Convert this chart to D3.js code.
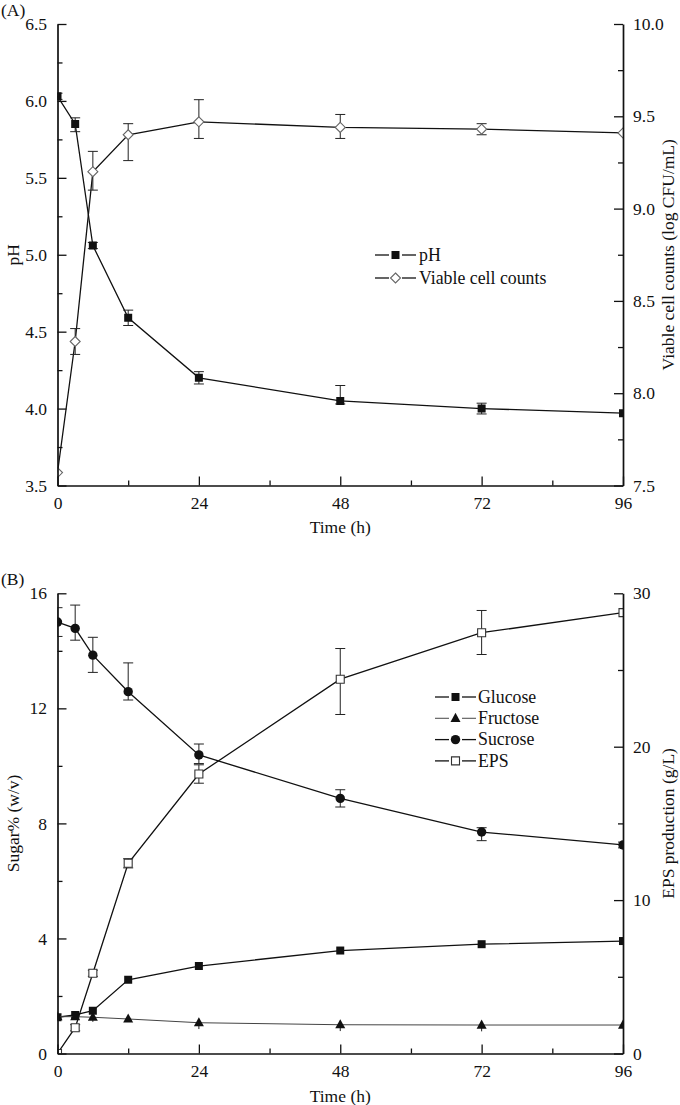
<!DOCTYPE html>
<html><head><meta charset="utf-8">
<script src="https://cdn.jsdelivr.net/npm/d3@7"></script>
<style>
body{margin:0;background:#fff}
svg{display:block}
text{font-family:"Liberation Serif","Times New Roman",serif;fill:#111}
.axis text{font-size:17.5px}
.lbl{font-size:17.5px}
.leg{font-size:17.8px}
</style>
</head><body>
<svg id="c" width="680" height="1105"></svg>
<script>
// ---------- data ----------
const times = [0, 3, 6, 12, 24, 48, 72, 96];
const xMajor = [0, 24, 48, 72, 96];
const xMinor = [12, 36, 60, 84];

// Panel A
const pH        = [6.03, 5.85, 5.06, 4.59, 4.20, 4.05, 4.00, 3.97];
const pHErrUp   = [0.02, 0.04, 0.02, 0.05, 0.04, 0.10, 0.035, 0.00];
const pHErrDown = [0.02, 0.05, 0.02, 0.05, 0.04, 0.02, 0.035, 0.00];
const viable        = [7.57, 8.28, 9.20, 9.40, 9.47, 9.44, 9.43, 9.41];
const viableErrUp   = [0.00, 0.07, 0.11, 0.06, 0.12, 0.07, 0.03, 0.00];
const viableErrDown = [0.00, 0.07, 0.10, 0.14, 0.09, 0.06, 0.03, 0.00];
const pHTicks = [3.5, 4.0, 4.5, 5.0, 5.5, 6.0, 6.5];
const pHMinor = [3.75, 4.25, 4.75, 5.25, 5.75, 6.25];
const viableTicks = [7.5, 8.0, 8.5, 9.0, 9.5, 10.0];
const viableMinor = [7.75, 8.25, 8.75, 9.25, 9.75];

// Panel B
const glucose  = [1.26, 1.34, 1.49, 2.56, 3.04, 3.58, 3.80, 3.91];
const fructose = [1.28, 1.28, 1.26, 1.20, 1.07, 1.00, 0.99, 0.99];
const fructoseErrDown = [0.00, 0.00, 0.16, 0.00, 0.22, 0.22, 0.22, 0.00];
const sucrose        = [15.00, 14.78, 13.85, 12.58, 10.38, 8.87, 7.70, 7.25];
const sucroseErrUp   = [0.50, 0.81, 0.62, 1.00, 0.38, 0.30, 0.15, 0.10];
const sucroseErrDown = [0.50, 0.41, 0.60, 0.29, 0.30, 0.30, 0.30, 0.10];
const eps        = [0.00, 1.68, 5.23, 12.40, 18.22, 24.40, 27.43, 28.74];
const epsErrUp   = [0.00, 0.20, 0.20, 0.30, 0.60, 2.00, 1.45, 0.00];
const epsErrDown = [0.00, 0.20, 0.20, 0.30, 0.60, 2.30, 1.42, 0.00];
const sugarTicks = [0, 4, 8, 12, 16];
const sugarMinor = [2, 6, 10, 14];
const epsTicks = [0, 10, 20, 30];
const epsMinor = [5, 15, 25];

// ---------- drawing ----------
const svg = d3.select('#c');
const X0 = 57.5, X1 = 623;
const INK = '#111';

const shapes = {
  square: (s) => `M${-s/2},${-s/2}h${s}v${s}h${-s}Z`,
  diamond: (w, h) => `M0,${-h/2}L${w/2},0L0,${h/2}L${-w/2},0Z`,
  triangle: () => `M0,-5.5L5,3.6L-5,3.6Z`
};

function marker(g, kind, cx, cy) {
  if (kind === 'fsquare') {
    g.append('path').attr('d', shapes.square(8)).attr('transform', `translate(${cx},${cy})`).attr('fill', INK);
  } else if (kind === 'osquare') {
    g.append('path').attr('d', shapes.square(8)).attr('transform', `translate(${cx},${cy})`).attr('fill', '#fff').attr('stroke', '#333').attr('stroke-width', 1.1);
  } else if (kind === 'diamond') {
    g.append('path').attr('d', shapes.diamond(10, 10)).attr('transform', `translate(${cx},${cy})`).attr('fill', '#fff').attr('stroke', '#666').attr('stroke-width', 1.1);
  } else if (kind === 'circle') {
    g.append('circle').attr('cx', cx).attr('cy', cy).attr('r', 4.7).attr('fill', INK);
  } else if (kind === 'triangle') {
    g.append('path').attr('d', shapes.triangle()).attr('transform', `translate(${cx},${cy})`).attr('fill', INK);
  }
}

function series(g, x, y, vals, up, down, kind, lw, lc, caps = true) {
  g.append('path')
    .attr('d', d3.line().x((d, i) => x(times[i])).y(d => y(d))(vals))
    .attr('fill', 'none').attr('stroke', lc).attr('stroke-width', lw);
  vals.forEach((v, i) => {
    const u = up ? up[i] : 0, dn = down ? down[i] : 0;
    if (u > 0 || dn > 0) {
      const cx = x(times[i]);
      const yt = y(v + u), yb = y(v - dn);
      g.append('line').attr('x1', cx).attr('x2', cx).attr('y1', yt).attr('y2', yb).attr('stroke', '#222').attr('stroke-width', 1);
      if (caps && u > 0) g.append('line').attr('x1', cx - 5).attr('x2', cx + 5).attr('y1', yt).attr('y2', yt).attr('stroke', '#222').attr('stroke-width', 1);
      if (caps && dn > 0) g.append('line').attr('x1', cx - 5).attr('x2', cx + 5).attr('y1', yb).attr('y2', yb).attr('stroke', '#222').attr('stroke-width', 1);
    }
  });
  vals.forEach((v, i) => marker(g, kind, x(times[i]), y(v)));
}

function axes(top, bottom, yl, yr, lMaj, lMin, lFmt, rMaj, rMin, rFmt) {
  const x = d3.scaleLinear().domain([0, 96]).range([X0, X1]);
  const style = (s) => { s.selectAll('line').attr('stroke', INK).attr('stroke-width', 1.3); s.select('.domain').attr('stroke', INK).attr('stroke-width', 1.7); };
  const minorStyle = (s) => { s.select('.domain').remove(); s.selectAll('line').attr('stroke', INK).attr('stroke-width', 1.3); };
  svg.append('g').attr('transform', `translate(${X0},0)`)
    .call(d3.axisLeft(yl).tickValues(lMin).tickSizeInner(-5).tickSizeOuter(0).tickFormat(''))
    .call(minorStyle);
  svg.append('g').attr('transform', `translate(${X1},0)`)
    .call(d3.axisRight(yr).tickValues(rMin).tickSizeInner(-5).tickSizeOuter(0).tickFormat(''))
    .call(minorStyle);
  svg.append('g').attr('transform', `translate(0,${bottom})`)
    .call(d3.axisBottom(x).tickValues(xMinor).tickSizeInner(-5).tickSizeOuter(0).tickFormat(''))
    .call(minorStyle);
  svg.append('g').attr('class', 'axis').attr('transform', `translate(${X0},0)`)
    .call(d3.axisLeft(yl).tickValues(lMaj).tickSizeInner(-9).tickSizeOuter(0).tickPadding(10.5).tickFormat(lFmt))
    .call(style);
  svg.append('g').attr('class', 'axis').attr('transform', `translate(${X1},0)`)
    .call(d3.axisRight(yr).tickValues(rMaj).tickSizeInner(-9).tickSizeOuter(0).tickPadding(10).tickFormat(rFmt))
    .call(style);
  svg.append('g').attr('class', 'axis').attr('transform', `translate(0,${bottom})`)
    .call(d3.axisBottom(x).tickValues(xMajor).tickSizeInner(-9).tickSizeOuter(0).tickPadding(11.5).tickFormat(d3.format('d')))
    .call(style);
  return x;
}

function clipFor(id, top, bottom) {
  svg.append('defs').append('clipPath').attr('id', id)
    .append('rect').attr('x', X0).attr('y', top - 40).attr('width', X1 - X0).attr('height', bottom - top + 40);
  return svg.append('g').attr('clip-path', `url(#${id})`);
}

function legend(x0, rows, y0, dy, textX) {
  rows.forEach((r, i) => {
    const y = y0 + i * dy;
    svg.append('line').attr('x1', x0).attr('x2', x0 + 14).attr('y1', y).attr('y2', y).attr('stroke', r.lc).attr('stroke-width', r.lw);
    svg.append('line').attr('x1', x0 + 27).attr('x2', x0 + 41).attr('y1', y).attr('y2', y).attr('stroke', r.lc).attr('stroke-width', r.lw);
    marker(svg, r.kind, x0 + 20.5, y);
    svg.append('text').attr('class', 'leg').attr('x', textX).attr('y', y).attr('dy', '0.33em').text(r.label);
  });
}

// ===== Panel A =====
{
  const top = 24, bottom = 485.5;
  const yl = d3.scaleLinear().domain([3.5, 6.5]).range([bottom, top]);
  const yr = d3.scaleLinear().domain([7.5, 10.0]).range([bottom, top]);
  const g = clipFor('clipA', top, bottom);
  const x = d3.scaleLinear().domain([0, 96]).range([X0, X1]);
  series(g, x, yl, pH, pHErrUp, pHErrDown, 'fsquare', 1.3, INK);
  series(g, x, yr, viable, viableErrUp, viableErrDown, 'diamond', 1.3, INK);
  axes(top, bottom, yl, yr, pHTicks, pHMinor, d3.format('.1f'), viableTicks, viableMinor, d3.format('.1f'));
  svg.append('text').attr('class', 'lbl').attr('x', 1).attr('y', 16).text('(A)');
  svg.append('text').attr('class', 'lbl').attr('x', (X0 + X1) / 2).attr('y', 533).attr('text-anchor', 'middle').text('Time (h)');
  svg.append('text').attr('class', 'lbl').attr('transform', `translate(13,${(top + bottom) / 2}) rotate(-90)`).attr('dy', '0.35em').attr('text-anchor', 'middle').text('pH');
  svg.append('text').attr('class', 'lbl').attr('transform', `translate(668,${(top + bottom) / 2}) rotate(-90)`).attr('dy', '0.35em').attr('text-anchor', 'middle').text('Viable cell counts (log CFU/mL)');
  legend(375, [
    {label: 'pH', kind: 'fsquare', lc: INK, lw: 1.3},
    {label: 'Viable cell counts', kind: 'diamond', lc: INK, lw: 1.3}
  ], 255, 23, 419);
}

// ===== Panel B =====
{
  const top = 593.3, bottom = 1053.5;
  const yl = d3.scaleLinear().domain([0, 16]).range([bottom, top]);
  const yr = d3.scaleLinear().domain([0, 30]).range([bottom, top]);
  const g = clipFor('clipB', top, bottom);
  const x = d3.scaleLinear().domain([0, 96]).range([X0, X1]);
  series(g, x, yl, glucose, null, null, 'fsquare', 1.3, INK);
  series(g, x, yl, fructose, null, fructoseErrDown, 'triangle', 1.0, '#444', false);
  series(g, x, yl, sucrose, sucroseErrUp, sucroseErrDown, 'circle', 1.3, INK);
  series(g, x, yr, eps, epsErrUp, epsErrDown, 'osquare', 1.3, INK);
  axes(top, bottom, yl, yr, sugarTicks, sugarMinor, d3.format('d'), epsTicks, epsMinor, d3.format('d'));
  svg.append('text').attr('class', 'lbl').attr('x', 1).attr('y', 585).text('(B)');
  svg.append('text').attr('class', 'lbl').attr('x', (X0 + X1) / 2).attr('y', 1102).attr('text-anchor', 'middle').text('Time (h)');
  svg.append('text').attr('class', 'lbl').attr('transform', `translate(13,${(top + bottom) / 2}) rotate(-90)`).attr('dy', '0.35em').attr('text-anchor', 'middle').text('Sugar% (w/v)');
  svg.append('text').attr('class', 'lbl').attr('transform', `translate(668,${(top + bottom) / 2}) rotate(-90)`).attr('dy', '0.35em').attr('text-anchor', 'middle').text('EPS production (g/L)');
  legend(435, [
    {label: 'Glucose', kind: 'fsquare', lc: INK, lw: 1.3},
    {label: 'Fructose', kind: 'triangle', lc: '#555', lw: 1.1},
    {label: 'Sucrose', kind: 'circle', lc: INK, lw: 1.3},
    {label: 'EPS', kind: 'osquare', lc: INK, lw: 1.3}
  ], 697, 21.3, 478);
}
</script>
</body></html>
